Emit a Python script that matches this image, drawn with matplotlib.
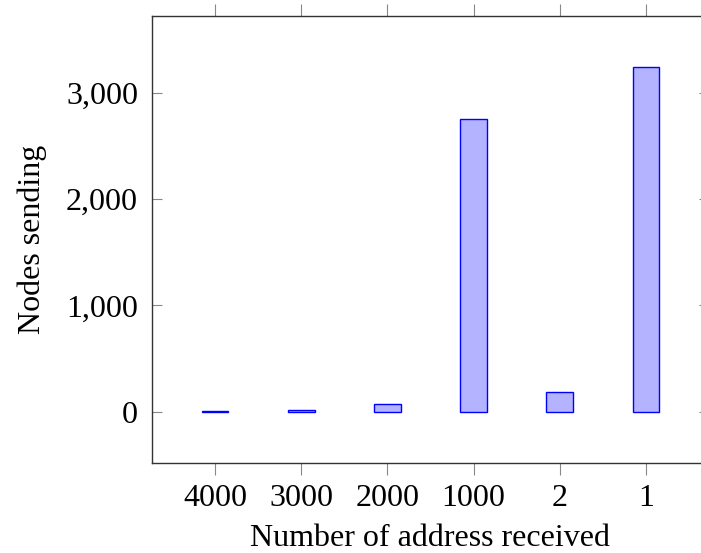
import matplotlib
matplotlib.use("Agg")
import matplotlib.pyplot as plt
from matplotlib.ticker import FuncFormatter

categories = ["4000", "3000", "2000", "1000", "2", "1"]
values = [3, 12, 70, 2750, 185, 3240]

plt.rcParams['font.family'] = ['Liberation Serif', 'DejaVu Serif']

fig = plt.figure(figsize=(7.01, 5.53), dpi=100)
W, H = 701, 553
left, right, top, bottom = 152, 709, 16, 462.5
ax = fig.add_axes([left / W, 1 - bottom / H, (right - left) / W, (bottom - top) / H])

x = list(range(len(categories)))
ax.bar(x, values, width=0.31, color='#b3b3ff', edgecolor='#0000ff', linewidth=1.0)

ax.set_xlim(-0.73, 5.73)
ax.set_ylim(-478, 3722)
ax.set_xticks(x)
ax.set_xticklabels(categories)
ax.set_yticks([0, 1000, 2000, 3000])
ax.yaxis.set_major_formatter(FuncFormatter(lambda v, p: f"{int(v):,}"))

fs = 23
ax.tick_params(axis='x', direction='out', length=8.5, width=0.8, color='#888888',
               top=True, bottom=True, labelsize=fs, pad=7)
ax.tick_params(axis='y', direction='in', length=7, width=0.8, color='#888888',
               left=True, right=True, labelsize=fs, pad=10)
for s in ax.spines.values():
    s.set_linewidth(1.0)
    s.set_color('#333333')

ax.set_xlabel("Number of address received", fontsize=fs, labelpad=8)
ax.set_ylabel("Nodes sending", fontsize=fs, labelpad=13.5)

fig.savefig("out.png", dpi=100)
